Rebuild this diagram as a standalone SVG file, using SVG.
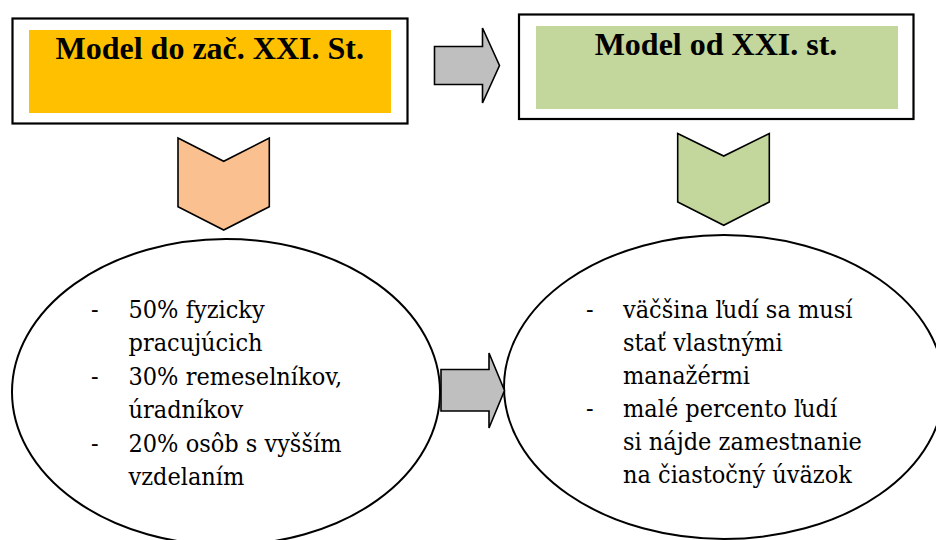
<svg xmlns="http://www.w3.org/2000/svg" width="936" height="540" viewBox="0 0 936 540">
<style>
.box{fill:#fff;stroke:#000;stroke-width:2.2}
.title{font-family:"Liberation Serif","Times New Roman",serif;font-weight:bold;font-size:32px;text-anchor:middle;fill:#000}
.txt{font-family:"DejaVu Serif Condensed","DejaVu Serif",serif;font-stretch:condensed;font-size:25px;fill:#000}
.ell{fill:#fff;stroke:#000;stroke-width:2}
.arrow{fill:#BFBFBF;stroke:#000;stroke-width:1.6;stroke-linejoin:miter}
.chev{stroke:#000;stroke-width:1.6;stroke-linejoin:miter}
</style>
<rect width="936" height="540" fill="#fff"/>
<g id="node-left-title">
<rect class="box" x="12.5" y="18.5" width="395" height="105"/>
<rect x="29" y="30" width="362" height="83" fill="#FFC000"/>
<text class="title" x="209.7" y="59.3">Model do zač. XXI. St.</text>
</g>
<g id="node-right-title">
<rect class="box" x="519" y="14.5" width="394.5" height="104.5"/>
<rect x="536" y="26" width="362" height="83" fill="#C3D69B"/>
<text class="title" x="716" y="55">Model od XXI. st.</text>
</g>
<g id="node-left-ellipse">
<ellipse class="ell" cx="226" cy="392" rx="214" ry="153"/>
<g class="txt">
<text x="91" y="317.5">-</text><text x="128.5" y="317.5">50% fyzicky</text>
<text x="128.5" y="351">pracujúcich</text>
<text x="91" y="384.5">-</text><text x="128.5" y="384.5">30% remeselníkov,</text>
<text x="128.5" y="418">úradníkov</text>
<text x="91" y="451.5">-</text><text x="128.5" y="451.5">20% osôb s vyšším</text>
<text x="128.5" y="485">vzdelaním</text>
</g>
</g>
<g id="node-right-ellipse">
<ellipse class="ell" cx="724" cy="387" rx="220" ry="152"/>
<g class="txt">
<text x="586" y="317.5">-</text><text x="623" y="317.5">väčšina ľudí sa musí</text>
<text x="623" y="350.5">stať vlastnými</text>
<text x="623" y="383.5">manažérmi</text>
<text x="586" y="416.5">-</text><text x="623" y="416.5">malé percento ľudí</text>
<text x="623" y="449.5">si nájde zamestnanie</text>
<text x="623" y="482.5">na čiastočný úväzok</text>
</g>
</g>
<g id="connectors">
<polygon class="arrow" points="434.5,46.5 482.5,46.5 482.5,28 499.5,65.5 482.5,103 482.5,84.5 434.5,84.5"/>
<polygon class="chev" fill="#FAC090" points="178,138 223.7,161.3 269.3,138 269.3,206.7 223.7,230 178,206.7"/>
<polygon class="chev" fill="#C3D69B" points="677.7,133.5 723.7,156 769.3,133.5 769.3,202 723.7,225.3 677.7,202"/>
<polygon class="arrow" points="441,369.5 489,369.5 489,353 504.5,390.5 489,428 489,411 441,411"/>
</g>
</svg>
